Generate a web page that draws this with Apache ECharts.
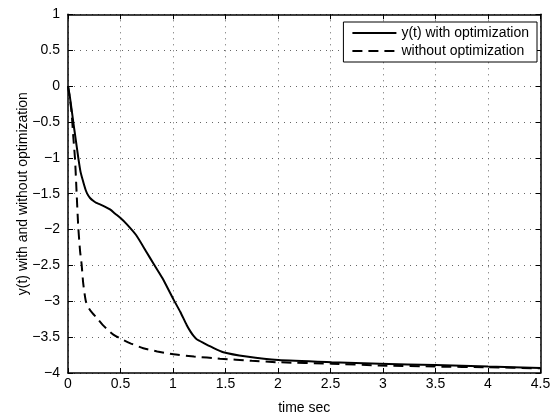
<!DOCTYPE html>
<html>
<head>
<meta charset="utf-8">
<script src="https://cdn.jsdelivr.net/npm/echarts@6/dist/echarts.min.js"></script>
<style>html,body{margin:0;padding:0;background:#fff;}#c{width:557px;height:420px;}</style>
</head>
<body>
<div id="c"></div>
<script>
const xTicks = [0,0.5,1,1.5,2,2.5,3,3.5,4,4.5];
const yTicks = [-4,-3.5,-3,-2.5,-2,-1.5,-1,-0.5,0,0.5,1];
const seriesNames = ['y(t) with optimization','without optimization'];
const tOpt = [0,0.019,0.05,0.075,0.098,0.12,0.146,0.171,0.19,0.21,0.24,0.27,0.305,0.35,0.4,0.45,0.5,0.559,0.65,0.75,0.812,0.9,1.003,1.07,1.13,1.17,1.2,1.226,1.289,1.37,1.479,1.7,2.003,2.51,2.97,3.5,4,4.5];
const yOpt = [0,-0.16,-0.5,-0.76,-1.0,-1.2,-1.34,-1.46,-1.52,-1.56,-1.6,-1.63,-1.65,-1.68,-1.72,-1.78,-1.84,-1.925,-2.08,-2.32,-2.47,-2.68,-2.97,-3.15,-3.33,-3.43,-3.49,-3.53,-3.58,-3.64,-3.71,-3.77,-3.82,-3.85,-3.87,-3.89,-3.91,-3.93];
const tNo = [0,0.01,0.02,0.035,0.05,0.067,0.083,0.098,0.115,0.13,0.145,0.17,0.2,0.235,0.273,0.33,0.38,0.432,0.511,0.6,0.717,0.85,1.003,1.2,1.448,1.75,2.0,2.51,2.97,3.5,4,4.5];
const yNo = [0,-0.1,-0.2,-0.385,-0.7,-1.02,-1.52,-1.97,-2.3,-2.49,-2.75,-3.0,-3.1,-3.17,-3.23,-3.33,-3.40,-3.465,-3.53,-3.59,-3.655,-3.70,-3.74,-3.77,-3.80,-3.83,-3.85,-3.87,-3.895,-3.91,-3.92,-3.935];

const pairs = (xs, ys) => xs.map((x, i) => [x, ys[i]]);
const fmt = v => String(v).replace('-', '\u2212');
const font = 'Liberation Sans, Arial, sans-serif';
const fs = 14;

const chart = echarts.init(document.getElementById('c'));
chart.setOption({
  animation: false,
  backgroundColor: '#fff',
  textStyle: { fontFamily: font },
  grid: { left: 68, right: 16.5, top: 14.3, bottom: 37.3, containLabel: false },
  legend: {
    orient: 'vertical', right: 20, top: 22,
    backgroundColor: '#fff', borderColor: '#000', borderWidth: 1,
    padding: [4, 8, 4, 8], itemGap: 4, itemWidth: 44, itemHeight: 14,
    itemStyle: { opacity: 0 },
    textStyle: { fontFamily: font, fontSize: fs, color: '#000' },
    data: seriesNames
  },
  xAxis: [{
    type: 'value', min: 0, max: 4.5, interval: 0.5,
    name: 'time sec', nameLocation: 'middle', nameGap: 28, nameMoveOverlap: false,
    nameTextStyle: { fontFamily: font, fontSize: fs, color: '#000' },
    axisLine: { show: true, onZero: false, lineStyle: { color: '#000', width: 1.5 } },
    axisTick: { show: true, inside: true, length: 5, lineStyle: { color: '#000' } },
    axisLabel: { margin: 4, fontFamily: font, fontSize: fs, color: '#000', formatter: v => fmt(v), customValues: xTicks },
    splitLine: { show: true, lineStyle: { color: '#666', type: [1, 5], width: 1 } }
  }, {
    type: 'value', min: 0, max: 4.5, interval: 0.5, position: 'top',
    axisLine: { show: true, onZero: false, lineStyle: { color: '#000', width: 1.5 } },
    axisTick: { show: true, inside: true, length: 5, lineStyle: { color: '#000' } },
    axisLabel: { show: false }, splitLine: { show: false }
  }],
  yAxis: [{
    type: 'value', min: -4, max: 1, interval: 0.5,
    name: 'y(t) with and without optimization', nameLocation: 'middle', nameGap: 38, nameMoveOverlap: false,
    nameTextStyle: { fontFamily: font, fontSize: fs, color: '#000' },
    axisLine: { show: true, onZero: false, lineStyle: { color: '#000', width: 1.5 } },
    axisTick: { show: true, inside: true, length: 5, lineStyle: { color: '#000' } },
    axisLabel: { margin: 8, fontFamily: font, fontSize: fs, color: '#000', formatter: v => fmt(v), customValues: yTicks },
    splitLine: { show: true, lineStyle: { color: '#666', type: [1, 5], width: 1 } }
  }, {
    type: 'value', min: -4, max: 1, interval: 0.5, position: 'right',
    axisLine: { show: true, onZero: false, lineStyle: { color: '#000', width: 1.5 } },
    axisTick: { show: true, inside: true, length: 5, lineStyle: { color: '#000' } },
    axisLabel: { show: false }, splitLine: { show: false }
  }],
  series: [{
    name: seriesNames[0], type: 'line', data: pairs(tOpt, yOpt),
    showSymbol: false, symbol: 'none', smooth: 0.2,
    lineStyle: { color: '#000', width: 2 }, itemStyle: { color: '#000' }
  }, {
    name: seriesNames[1], type: 'line', data: pairs(tNo, yNo),
    showSymbol: false, symbol: 'none', smooth: 0.2,
    lineStyle: { color: '#000', width: 2, type: [10, 6] }, itemStyle: { color: '#000' }
  }]
});
</script>
</body>
</html>
